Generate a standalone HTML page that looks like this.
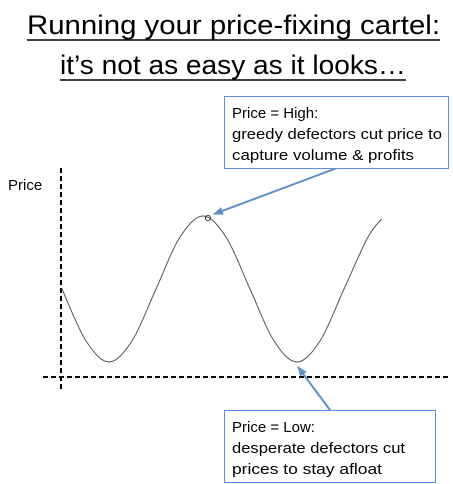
<!DOCTYPE html>
<html><head><meta charset="utf-8"><style>
html,body{margin:0;padding:0;background:#fff;}
svg{display:block;font-family:"Liberation Sans",sans-serif;}
</style></head><body>
<svg width="453" height="484" viewBox="0 0 453 484">
<defs><marker id="ah" markerWidth="10" markerHeight="8" refX="9" refY="4" orient="auto" markerUnits="userSpaceOnUse"><path d="M0,0 L10,4 L0,8 Z" fill="#5b8fc7"/></marker></defs>
<g fill="#000" font-size="27">
<text x="27" y="34" textLength="413" lengthAdjust="spacingAndGlyphs">Running your price-fixing cartel:</text>
<line x1="27" y1="40" x2="440" y2="40" stroke="#000" stroke-width="1.5"/>
<text x="60" y="74" textLength="346" lengthAdjust="spacingAndGlyphs">it’s not as easy as it looks…</text>
<line x1="60" y1="80" x2="406" y2="80" stroke="#000" stroke-width="1.5"/>
</g>
<text x="8" y="190" font-size="15">Price</text>
<line x1="61" y1="168" x2="61" y2="392" stroke="#000" stroke-width="2" stroke-dasharray="5,3"/>
<line x1="43" y1="377" x2="449" y2="377" stroke="#000" stroke-width="2" stroke-dasharray="5,3"/>
<path id="curve" fill="none" stroke="#555" stroke-width="1"/>
<circle cx="208" cy="218" r="2.5" fill="none" stroke="#333" stroke-width="1"/>
<line x1="337" y1="168" x2="214" y2="214" stroke="#5b8fc7" stroke-width="2" marker-end="url(#ah)"/>
<line x1="330" y1="410" x2="298" y2="367" stroke="#5b8fc7" stroke-width="2" marker-end="url(#ah)"/>
<g font-size="15">
<rect x="224.5" y="96.5" width="224" height="72" fill="#fff" stroke="#5b8fe8" stroke-width="1"/>
<text x="232" y="118">Price = High:</text>
<text x="232" y="139" textLength="210" lengthAdjust="spacingAndGlyphs">greedy defectors cut price to</text>
<text x="232" y="160" textLength="182" lengthAdjust="spacingAndGlyphs">capture volume &amp; profits</text>
</g>
<g font-size="15">
<rect x="224.5" y="410.5" width="211" height="72" fill="#fff" stroke="#5b8fe8" stroke-width="1"/>
<text x="232" y="432">Price = Low:</text>
<text x="232" y="453" textLength="173" lengthAdjust="spacingAndGlyphs">desperate defectors cut</text>
<text x="232" y="474" textLength="150" lengthAdjust="spacingAndGlyphs">prices to stay afloat</text>
</g>
</svg>
<script>
// samples every eighth of a cycle, normalized price (0 = trough, 1 = peak)
const steps = [0,1,2,3,4,5,6,7,8,9,10,11,12,13,13.6];
const prices = [0.5,0.15,0,0.15,0.5,0.85,1,0.85,0.5,0.15,0,0.15,0.5,0.85,0.98];
const xAt = s => 62 + s*23.5;
const yAt = v => 362 - v*146;
const pts = steps.map((s,i)=>[xAt(s), yAt(prices[i])]);
let d = `M${pts[0][0]},${pts[0][1]}`;
for(let i=0;i<pts.length-1;i++){
  const p0=pts[Math.max(0,i-1)],p1=pts[i],p2=pts[i+1],p3=pts[Math.min(pts.length-1,i+2)];
  const c1=[p1[0]+(p2[0]-p0[0])/6,p1[1]+(p2[1]-p0[1])/6];
  const c2=[p2[0]-(p3[0]-p1[0])/6,p2[1]-(p3[1]-p1[1])/6];
  d+=` C${c1[0]},${c1[1]} ${c2[0]},${c2[1]} ${p2[0]},${p2[1]}`;
}
document.getElementById('curve').setAttribute('d', d);
</script>
</body></html>
